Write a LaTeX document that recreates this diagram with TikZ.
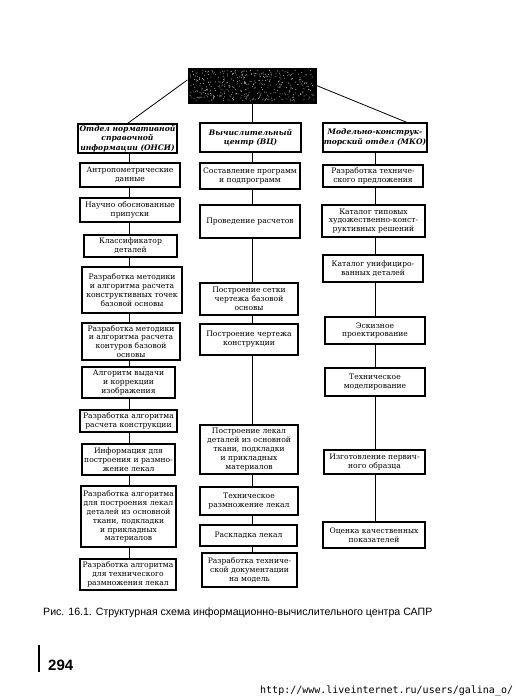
\documentclass[tikz,border=0pt]{standalone}
\usepackage{fontspec}
\setmainfont{DejaVu Serif}
\newfontfamily\capfont{Liberation Sans}
\newfontfamily\urlfont{DejaVu Sans Mono}
\usetikzlibrary{calc}
\begin{document}
\begin{tikzpicture}[x=1pt,y=-1pt,
  box/.style={draw, line width=1.1pt, align=center, inner sep=0.5pt, font=\fontsize{7.6}{8.9}\selectfont},
  hbox/.style={box, font=\fontsize{7.6}{9.3}\selectfont\bfseries\itshape},
  link/.style={line width=0.8pt}]
\useasboundingbox (0,0) rectangle (518,699);
\fill[white] (0,0) rectangle (518,699);

% top box
\node[draw, fill=black, line width=1pt, minimum width=128pt, minimum height=35pt] (top) at (252,85.5) {};
\pgfmathsetseed{7}
\foreach \i in {1,...,420}{
  \pgfmathsetmacro\rx{190+124*rnd}
  \pgfmathsetmacro\ry{70+31*rnd}
  \fill[gray!60] (\rx,\ry) circle (0.5pt);
}

% headers
\node[hbox, minimum width=99pt, minimum height=29pt] (h1) at (127.5,138.5) {Отдел нормативной\\справочной\\информации (ОНСИ)};
\node[hbox, minimum width=101pt, minimum height=29pt] (h2) at (250.5,137.5) {Вычислительный\\центр (ВЦ)};
\node[hbox, minimum width=104pt, minimum height=29pt] (h3) at (375,137.5) {Модельно-конструк-\\торский отдел (МКО)};

% left column
\node[box, minimum width=100pt, minimum height=24pt] (L1) at (130,175) {Антропометрические\\данные};
\node[box, minimum width=100pt, minimum height=24pt] (L2) at (130,210) {Научно обоснованные\\припуски};
\node[box, minimum width=93pt, minimum height=22pt] (L3) at (130.5,246) {Классификатор\\деталей};
\node[box, minimum width=100pt, minimum height=46pt] (L4) at (132,290) {Разработка методики\\и алгоритма расчета\\конструктивных точек\\базовой основы};
\node[box, minimum width=98pt, minimum height=37pt] (L5) at (131,341.5) {Разработка методики\\и алгоритма расчета\\контуров базовой\\основы};
\node[box, minimum width=93pt, minimum height=31pt] (L6) at (128.5,382.5) {Алгоритм выдачи\\и коррекции\\изображения};
\node[box, minimum width=97pt, minimum height=22pt] (L7) at (128.5,421) {Разработка алгоритма\\расчета конструкции};
\node[box, minimum width=93pt, minimum height=31pt] (L8) at (128.5,459.5) {Информация для\\построения и размно-\\жение лекал};
\node[box, minimum width=95pt, minimum height=61pt] (L9) at (128.5,516.5) {Разработка алгоритма\\для построения лекал\\деталей из основной\\ткани, подкладки\\и прикладных\\материалов};
\node[box, minimum width=96pt, minimum height=31pt] (L10) at (128,574.5) {Разработка алгоритма\\для технического\\размножения лекал};

% middle column
\node[box, minimum width=100pt, minimum height=26pt] (M1) at (250,176) {Составление программ\\и подпрограмм};
\node[box, minimum width=100pt, minimum height=33pt] (M2) at (250,221.5) {Проведение расчетов};
\node[box, minimum width=98pt, minimum height=32pt] (M3) at (249,299) {Построение сетки\\чертежа базовой\\основы};
\node[box, minimum width=98pt, minimum height=31pt] (M4) at (249,339.5) {Построение чертежа\\конструкции};
\node[box, minimum width=98pt, minimum height=49pt] (M5) at (249,449.5) {Построение лекал\\деталей из основной\\ткани, подкладки\\и прикладных\\материалов};
\node[box, minimum width=98pt, minimum height=28pt] (M6) at (249,501) {Техническое\\размножение лекал};
\node[box, minimum width=97pt, minimum height=21pt] (M7) at (248.5,535.5) {Раскладка лекал};
\node[box, minimum width=95pt, minimum height=34pt] (M8) at (249.5,570) {Разработка техниче-\\ской документации\\на модель};

% right column
\node[box, minimum width=100pt, minimum height=22pt] (R1) at (373,176) {Разработка техниче-\\ского предложения};
\node[box, minimum width=103pt, minimum height=32pt] (R2) at (373.5,221) {Каталог типовых\\художественно-конст-\\руктивных решений};
\node[box, minimum width=100pt, minimum height=27pt] (R3) at (373,268.5) {Каталог унифициро-\\ванных деталей};
\node[box, minimum width=100pt, minimum height=27pt] (R4) at (375,330.5) {Эскизное\\проектирование};
\node[box, minimum width=100pt, minimum height=28pt] (R5) at (375,382) {Техническое\\моделирование};
\node[box, minimum width=101pt, minimum height=24pt] (R6) at (374.5,462) {Изготовление первич-\\ного образца};
\node[box, minimum width=102pt, minimum height=26pt] (R7) at (374,535) {Оценка качественных\\показателей};

% column axes
\coordinate (cl) at (129,0);
\coordinate (cm) at (252,0);
\coordinate (cr) at (375,0);

% links from top
\draw[link] (top.175) -- (h1.north);
\draw[link] (top.east) -- ([xshift=32pt]h3.north);
\draw[link] (top.south -| cm) -- (h2.north -| cm);

% left links
\foreach \a/\b in {h1/L1,L1/L2,L2/L3,L3/L4,L4/L5,L5/L6,L6/L7,L7/L8,L8/L9,L9/L10}
  \draw[link] (\a.south -| cl) -- (\b.north -| cl);
% middle links
\foreach \a/\b in {h2/M1,M1/M2,M2/M3,M3/M4,M4/M5,M5/M6,M6/M7,M7/M8}
  \draw[link] (\a.south -| cm) -- (\b.north -| cm);
% right links
\foreach \a/\b in {h3/R1,R1/R2,R2/R3,R3/R4,R4/R5,R5/R6,R6/R7}
  \draw[link] (\a.south -| cr) -- (\b.north -| cr);

% caption and page furniture
\node[anchor=base west, inner sep=0pt, font=\capfont\fontsize{10.6}{12}\selectfont] (cap) at (43,615) {Рис. 16.1. Структурная схема информационно-вычислительного центра САПР};
\draw[line width=2pt] (39,645) -- (39,672);
\node[anchor=base west, inner sep=0pt, font=\capfont\bfseries\fontsize{15}{15}\selectfont] (pg) at (48,670) {294};
\node[anchor=base west, inner sep=0pt, font=\urlfont\fontsize{10}{10}\selectfont] (url) at (260,693) {http://www.liveinternet.ru/users/galina\_o/};
\end{tikzpicture}
\end{document}
